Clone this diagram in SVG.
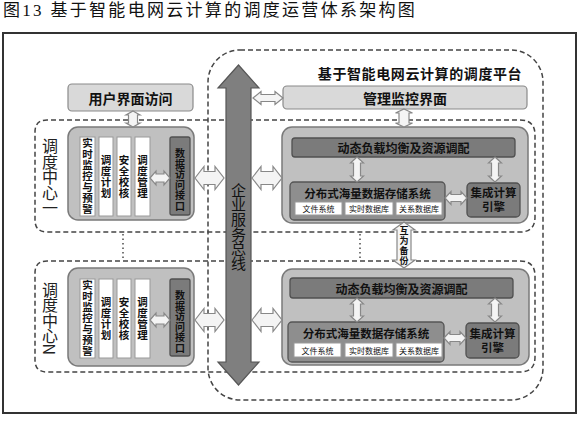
<svg xmlns="http://www.w3.org/2000/svg" width="581" height="422" viewBox="0 0 581 422">
<style>
text{font-family:"Noto Sans CJK SC","Liberation Sans",sans-serif;fill:#111;dominant-baseline:central;text-anchor:middle}
.v{writing-mode:vertical-rl}
.b{font-weight:bold}
.eng{font-family:"Liberation Sans","Noto Sans CJK SC",sans-serif;font-size:11.5px;font-weight:bold}
.dash{fill:none;stroke:#444;stroke-width:1.5;stroke-dasharray:5 3}
.dot{fill:none;stroke:#555;stroke-width:1.6;stroke-dasharray:1.5 3}
.light{fill:#d9d9d9;stroke:#8a8a8a;stroke-width:1.2}
.node{fill:#c0c0c0;stroke:#7a7a7a;stroke-width:1.5}
.strip{fill:#fff;stroke:#999;stroke-width:1}
.dark{fill:#7b7b7b;stroke:#505050;stroke-width:1.3}
.mid{fill:#8e8e8e;stroke:#555;stroke-width:1.3}
.ha{fill:#f4f4f4;stroke:#888;stroke-width:1.2}
.bus{fill:#7f7f7f;stroke:#555;stroke-width:1.2}
.sv{font-size:10.5px;letter-spacing:0.5px;font-weight:bold}
.dv{font-size:10px;letter-spacing:0.5px;font-weight:bold}
.cv{font-size:16px;letter-spacing:-0.5px;fill:#222}
</style>
<rect width="581" height="422" fill="#fff"/>
<text x="3" y="10" style="text-anchor:start;font-family:'Liberation Serif','Noto Sans CJK SC',serif;font-size:17px;letter-spacing:2.3px">图13 基于智能电网云计算的调度运营体系架构图</text>
<rect x="3" y="33" width="573" height="380" fill="none" stroke="#333" stroke-width="2"/>

<g id="platform">
<rect class="dash" x="208" y="50" width="335" height="350" rx="32"/>
<text class="b" x="420" y="73" style="font-size:14px;letter-spacing:0.6px">基于智能电网云计算的调度平台</text>
</g>

<g id="dashed-groups">
<path class="dash" d="M240,120 H47 Q35,120 35,132 V220 Q35,232 47,232 H240"/>
<path class="dash" d="M240,120 H520 Q535,120 535,135 V217 Q535,232 520,232 H240"/>
<path class="dash" d="M240,261 H47 Q35,261 35,273 V360 Q35,372 47,372 H240"/>
<path class="dash" d="M240,261 H520 Q535,261 535,276 V357 Q535,372 520,372 H240"/>
<path class="dot" d="M123,234 V259 M360,234 V259"/>
</g>

<g id="user-ui">
<rect class="light" x="68" y="84" width="125" height="27" rx="4"/>
<text class="b" x="130.5" y="98" style="font-size:14px">用户界面访问</text>
</g>
<g id="mgmt-ui">
<rect class="light" x="283" y="86" width="244" height="23" rx="4"/>
<text class="b" x="405" y="97.5" style="font-size:14px">管理监控界面</text>
</g>

<g id="center1">
<text class="v cv" x="50" y="177">调度中心一</text>
<rect class="node" x="68" y="127" width="126" height="93" rx="10"/>
<rect class="strip" x="80" y="137" width="15" height="79"/>
<rect class="strip" x="99" y="137" width="14" height="79"/>
<rect class="strip" x="117" y="137" width="14" height="79"/>
<rect class="strip" x="135" y="137" width="15" height="79"/>
<rect class="dark" x="170" y="137" width="20" height="78" rx="2"/>
<text class="v sv" x="87.5" y="176.5">实时监控与预警</text>
<text class="v sv" x="106" y="176.5">调度计划</text>
<text class="v sv" x="124" y="176.5">安全校核</text>
<text class="v sv" x="142.5" y="176.5">调度管理</text>
<text class="v dv" x="180" y="180">数据访问接口</text>
</g>

<g id="centerN">
<text class="v cv" x="50" y="318">调度中心N</text>
<rect class="node" x="68" y="268" width="126" height="98" rx="10"/>
<rect class="strip" x="80" y="279" width="15" height="79"/>
<rect class="strip" x="99" y="279" width="14" height="79"/>
<rect class="strip" x="117" y="279" width="14" height="79"/>
<rect class="strip" x="135" y="279" width="15" height="79"/>
<rect class="dark" x="170" y="279" width="20" height="77" rx="2"/>
<text class="v sv" x="87.5" y="318.5">实时监控与预警</text>
<text class="v sv" x="106" y="318.5">调度计划</text>
<text class="v sv" x="124" y="318.5">安全校核</text>
<text class="v sv" x="142.5" y="318.5">调度管理</text>
<text class="v dv" x="180" y="322">数据访问接口</text>
</g>

<g id="cloud1">
<rect class="node" x="282" y="127" width="246" height="96" rx="10"/>
<rect class="dark" x="292" y="138" width="223" height="19" rx="3"/>
<text class="b" x="403.5" y="147.5" style="font-size:12px">动态负载均衡及资源调配</text>
<rect class="mid" x="290" y="182" width="155" height="38" rx="4"/>
<text class="b" x="367.5" y="192.5" style="font-size:11.5px">分布式海量数据存储系统</text>
<rect class="strip" x="295" y="202" width="47" height="13"/>
<rect class="strip" x="345" y="202" width="48" height="13"/>
<rect class="strip" x="396" y="202" width="46" height="13"/>
<text x="318.5" y="208.5" style="font-size:8px">文件系统</text>
<text x="369" y="208.5" style="font-size:8px">实时数据库</text>
<text x="419" y="208.5" style="font-size:8px">关系数据库</text>
<rect class="dark" x="467" y="183" width="53" height="34" rx="4"/>
<text class="eng" x="493.5" y="193.3">集成计算</text>
<text class="eng" x="493.5" y="207.2">引擎</text>
</g>

<g id="cloud2">
<rect class="node" x="282" y="269" width="247" height="96" rx="10"/>
<rect class="dark" x="290" y="278" width="223" height="20" rx="3"/>
<text class="b" x="401.5" y="288" style="font-size:12px">动态负载均衡及资源调配</text>
<rect class="mid" x="288" y="322" width="156" height="40" rx="4"/>
<text class="b" x="366" y="333" style="font-size:11.5px">分布式海量数据存储系统</text>
<rect class="strip" x="294" y="343" width="47" height="14"/>
<rect class="strip" x="345" y="343" width="48" height="14"/>
<rect class="strip" x="396" y="343" width="46" height="14"/>
<text x="317.5" y="350" style="font-size:8px">文件系统</text>
<text x="369" y="350" style="font-size:8px">实时数据库</text>
<text x="419" y="350" style="font-size:8px">关系数据库</text>
<rect class="dark" x="466" y="323" width="53" height="35" rx="4"/>
<text class="eng" x="492.5" y="333.8">集成计算</text>
<text class="eng" x="492.5" y="347.7">引擎</text>
</g>

<g id="connectors">
<path class="ha" d="M195,178 L204,166.5 V171.5 H215 V166.5 L224,178 L215,189.5 V184.5 H204 V189.5 Z"/>
<path class="ha" d="M252,178 L261,166.5 V171.5 H273 V166.5 L282,178 L273,189.5 V184.5 H261 V189.5 Z"/>
<path class="ha" d="M195,320 L204,308.5 V313.5 H215 V308.5 L224,320 L215,331.5 V326.5 H204 V331.5 Z"/>
<path class="ha" d="M252,320 L261,308.5 V313.5 H273 V308.5 L282,320 L273,331.5 V326.5 H261 V331.5 Z"/>
<path class="ha" d="M253,98 L261,91.5 V94.5 H275 V91.5 L283,98 L275,104.5 V101.5 H261 V104.5 Z"/>
<path class="ha" d="M150,178 L156,171 V174 H164 V171 L170,178 L164,185 V182 H156 V185 Z"/>
<path class="ha" d="M150,320 L156,313 V316 H164 V313 L170,320 L164,327 V324 H156 V327 Z"/>
<path class="ha" d="M133,111 L140,115 H137.5 V123 H140 L133,127 L126,123 H128.5 V115 H126 Z"/>
<path class="ha" d="M404,109 L412.5,113 H409 V123 H412.5 L404,127 L395.5,123 H399 V113 H395.5 Z"/>
<path class="ha" d="M357,157 L363.5,163 H360.5 V176 H363.5 L357,182 L350.5,176 H353.5 V163 H350.5 Z"/>
<path class="ha" d="M495,157 L501.5,163 H498.5 V176 H501.5 L495,182 L488.5,176 H491.5 V163 H488.5 Z"/>
<path class="ha" d="M357,298 L363.5,304 H360.5 V316 H363.5 L357,322 L350.5,316 H353.5 V304 H350.5 Z"/>
<path class="ha" d="M495,298 L501.5,304 H498.5 V316 H501.5 L495,322 L488.5,316 H491.5 V304 H488.5 Z"/>
<path class="ha" d="M445,198 L451,191.5 V194.5 H461 V191.5 L467,198 L461,204.5 V201.5 H451 V204.5 Z"/>
<path class="ha" d="M444,338 L450,331.5 V334.5 H460 V331.5 L466,338 L460,344.5 V341.5 H450 V344.5 Z"/>
<path class="ha" d="M404,222 L415,230 H411 V260 H415 L404,268 L393,260 H397 V230 H393 Z"/>
<text class="v b" x="404" y="246" style="font-size:9px;letter-spacing:1px">互为备份</text>
</g>

<g id="esb">
<path class="bus" d="M238.5,65 L259,88 H251 V362 H259 L238.5,385 L218,362 H226 V88 H218 Z"/>
<text class="v" x="238.5" y="226.5" style="font-size:15px;letter-spacing:-0.4px">企业服务总线</text>
</g>
</svg>
